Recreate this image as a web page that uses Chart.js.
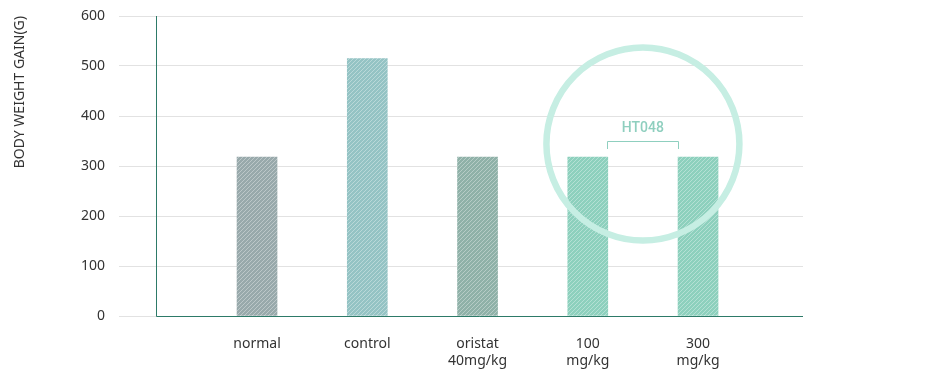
<!DOCTYPE html>
<html>
<head>
<meta charset="utf-8">
<script src="https://cdn.jsdelivr.net/npm/chart.js@4"></script>
<style>
html,body{margin:0;padding:0;background:#fff;}
#wrap{position:relative;width:928px;height:377px;}
</style>
</head>
<body>
<div id="wrap"><canvas id="c" width="928" height="377"></canvas></div>
<script>
const categories = [["normal"], ["control"], ["oristat", "40mg/kg"], ["100", "mg/kg"], ["300", "mg/kg"]];
const values = [318, 515, 318, 318, 318];
const barColors = ["#98a9ab", "#94c3c4", "#8fb1a8", "#8dd0bd", "#8dd0bd"];
const yTicks = [0, 100, 200, 300, 400, 500, 600];
const yTitle = "BODY WEIGHT GAIN(G)";
const groupLabel = "HT048";
const groupFrom = 3, groupTo = 4;

function hatch(color) {
  const s = 4;
  const cv = document.createElement('canvas');
  cv.width = s; cv.height = s;
  const g = cv.getContext('2d');
  g.fillStyle = color; g.fillRect(0, 0, s, s);
  g.strokeStyle = 'rgba(255,255,255,0.35)';
  g.lineWidth = 1;
  g.beginPath();
  g.moveTo(0, s); g.lineTo(s, 0);
  g.moveTo(-1, 1); g.lineTo(1, -1);
  g.moveTo(s - 1, s + 1); g.lineTo(s + 1, s - 1);
  g.stroke();
  return document.getElementById('c').getContext('2d').createPattern(cv, 'repeat');
}

const data = values.map((v, i) => ({x: i, y: v}));

const overlay = {
  id: 'overlay',
  beforeDatasetsDraw(chart) {
    const {ctx, scales: {x, y}, chartArea} = chart;
    ctx.save();
    const ax = x.getPixelForValue(-0.916);
    ctx.strokeStyle = '#2d7a68';
    ctx.lineWidth = 1;
    ctx.beginPath();
    ctx.moveTo(Math.round(ax) + 0.5, chartArea.top);
    ctx.lineTo(Math.round(ax) + 0.5, Math.round(y.getPixelForValue(0)) + 0.5);
    ctx.lineTo(chartArea.right, Math.round(y.getPixelForValue(0)) + 0.5);
    ctx.stroke();
    ctx.restore();
  },
  afterDatasetsDraw(chart) {
    const {ctx, scales: {x, y}} = chart;
    ctx.save();
    const x1 = x.getPixelForValue(groupFrom) + 20;
    const x2 = x.getPixelForValue(groupTo) - 20;
    const cx = (x.getPixelForValue(groupFrom) + x.getPixelForValue(groupTo)) / 2;
    const cy = y.getPixelForValue(344);
    ctx.strokeStyle = '#c6eee3';
    ctx.lineWidth = 6.5;
    ctx.beginPath();
    ctx.arc(cx, cy, 96.5, 0, Math.PI * 2);
    ctx.stroke();
    const by = y.getPixelForValue(350);
    ctx.strokeStyle = '#8fcfbf';
    ctx.lineWidth = 1;
    ctx.beginPath();
    ctx.moveTo(Math.round(x1) - 0.5, by + 8);
    ctx.lineTo(Math.round(x1) - 0.5, Math.round(by) + 0.5);
    ctx.lineTo(Math.round(x2) + 0.5, Math.round(by) + 0.5);
    ctx.lineTo(Math.round(x2) + 0.5, by + 8);
    ctx.stroke();
    ctx.fillStyle = '#8fcfbf';
    ctx.font = '500 14px Roboto';
    ctx.textAlign = 'center';
    ctx.textBaseline = 'middle';
    ctx.fillText(groupLabel, cx, by - 13);
    ctx.restore();
  }
};

new Chart(document.getElementById('c'), {
  type: 'bar',
  data: {
    datasets: [{
      data: data,
      backgroundColor: barColors.map(hatch),
      borderWidth: 0,
      barThickness: 40
    }]
  },
  options: {
    responsive: false,
    animation: false,
    layout: {padding: {top: 16, right: 125, bottom: 0, left: 0}},
    plugins: {legend: {display: false}, tooltip: {enabled: false}},
    scales: {
      x: {
        type: 'linear',
        offset: false,
        min: -1.252,
        max: 4.952,
        grid: {display: false, drawTicks: false},
        border: {display: false},
        afterBuildTicks(axis) { axis.ticks = categories.map((c, i) => ({value: i})); },
        afterFit(axis) { axis.height = 61; axis.paddingLeft = 0; axis.paddingRight = 0; },
        ticks: {
          autoSkip: false,
          maxRotation: 0,
          padding: 19,
          color: '#333',
          font: {family: 'Noto Sans', size: 14, lineHeight: 1.25},
          callback: (v) => categories[v]
        }
      },
      y: {
        min: 0, max: 600,
        afterBuildTicks(axis) { axis.ticks = yTicks.map(v => ({value: v})); },
        afterFit(axis) { axis.width = 119; axis.paddingTop = 0; axis.paddingBottom = 0; },
        grid: {color: '#e2e2e2', drawTicks: false, lineWidth: 1},
        border: {display: false},
        ticks: {
          padding: 14,
          color: '#333',
          font: {family: 'Noto Sans', size: 14}
        },
        title: {
          display: true,
          text: yTitle,
          align: 'end',
          color: '#333',
          font: {family: 'Noto Sans', size: 14},
          padding: {top: 12, bottom: 0}
        }
      }
    }
  },
  plugins: [overlay]
});
</script>
</body>
</html>
